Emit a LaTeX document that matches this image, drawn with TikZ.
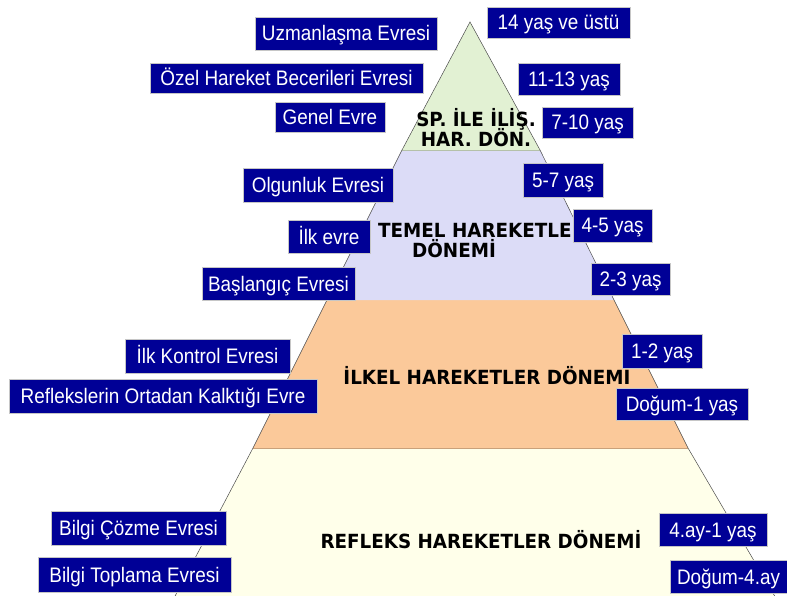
\documentclass[tikz,border=0pt]{standalone}
\usepackage{fontspec}
\setmainfont{Liberation Sans}[FakeStretch=0.9]
\newfontfamily\donemfont{DejaVu Sans}[FakeStretch=0.94]
\usetikzlibrary{positioning}
\definecolor{lacivert}{RGB}{0,0,150}
\definecolor{yesil}{RGB}{226,241,211}
\definecolor{lila}{RGB}{220,220,247}
\definecolor{turuncu}{RGB}{251,201,154}
\definecolor{krem}{RGB}{255,255,234}
\tikzset{kutu/.style = {fill=lacivert, draw=gray!45, line width=0.6pt, text=white,
                        inner sep=0pt, text height=16pt, text depth=1pt,
                        font=\fontsize{21}{24}\selectfont},
         donem/.style = {inner sep=0pt, font=\donemfont\bfseries\fontsize{19.5}{21}\selectfont},
         kenar/.style = {draw=black!70, line width=0.5pt}}

\begin{document}
\begin{tikzpicture}[x=1pt, y=-1pt]
      \useasboundingbox (0,0) rectangle (787,596);
      \fill [white] (0,0) rectangle (787,596);
      \begin{scope}
        \clip (0,0) rectangle (787,596);
        \fill [krem] (253,448) -- (688,448) -- (777,600) -- (173,600) -- cycle;
        \fill [turuncu] (327,300) -- (614,300) -- (688,448) -- (253,448) -- cycle;
        \fill [lila] (402,150) -- (540,150) -- (614,300) -- (327,300) -- cycle;
        \fill [yesil] (470,22) -- (540,150) -- (402,150) -- cycle;
        \draw [yesil!80!black, line width=0.4pt] (402,150) -- (540,150);
        \draw [turuncu!80!black, line width=0.4pt] (253,448) -- (688,448);
        \draw [kenar] (173,600) -- (253,448) -- (327,300) -- (402,150) -- (470,22)
                      -- (540,150) -- (614,300) -- (688,448) -- (777,600);
      \end{scope}
      \node [donem, anchor=base] (sp1) at (476,127) {SP. İLE İLİŞ.};
      \node [donem, anchor=base] (sp2) at ([yshift=-20pt]sp1.base) {HAR. DÖN.};
      \node [donem, anchor=base west] (temel1) at (378,237) {TEMEL HAREKETLER};
      \node [donem, anchor=base west] (temel2) at (412,257) {DÖNEMİ};
      \node [donem, anchor=base] (ilkel) at (487,384) {İLKEL HAREKETLER DÖNEMI};
      \node [donem, anchor=base] (refleks) at (481,548) {REFLEKS HAREKETLER DÖNEMİ};
      \node [kutu, minimum width=182, minimum height=33] (uzman) at (346,33.5) {Uzmanlaşma Evresi};
      \node [kutu, minimum width=143, minimum height=31] (y14) at (558.5,22.5) {14 yaş ve üstü};
      \node [kutu, minimum width=273, minimum height=30] (ozel) at (286.5,78) {Özel Hareket Becerileri Evresi};
      \node [kutu, minimum width=102, minimum height=32] (y11) at (569,79) {11-13 yaş};
      \node [kutu, minimum width=110, minimum height=30] (genel) at (330,117) {Genel Evre};
      \node [kutu, minimum width=91, minimum height=31] (y7) at (587.5,122.5) {7-10 yaş};
      \node [kutu, minimum width=150, minimum height=34] (olgun) at (318,185) {Olgunluk Evresi};
      \node [kutu, minimum width=80, minimum height=34] (y5) at (563,180) {5-7 yaş};
      \node [kutu, minimum width=82, minimum height=33] (ilkevre) at (329,236.5) {İlk evre};
      \node [kutu, minimum width=79, minimum height=33] (y4) at (612.5,225.5) {4-5 yaş};
      \node [kutu, minimum width=153, minimum height=33] (baslangic) at (278.5,283.5) {Başlangıç Evresi};
      \node [kutu, minimum width=79, minimum height=32] (y2) at (630.5,279) {2-3 yaş};
      \node [kutu, minimum width=165, minimum height=34] (kontrol) at (207.5,356) {İlk Kontrol Evresi};
      \node [kutu, minimum width=308, minimum height=34] (kalkma) at (163,396) {Reflekslerin Ortadan Kalktığı Evre};
      \node [kutu, minimum width=80, minimum height=34] (y1) at (662,351) {1-2 yaş};
      \node [kutu, minimum width=132, minimum height=32] (dogum1) at (682,404) {Doğum-1 yaş};
      \node [kutu, minimum width=175, minimum height=34] (cozme) at (138.5,528) {Bilgi Çözme Evresi};
      \node [kutu, minimum width=193, minimum height=35] (toplama) at (134.5,574.5) {Bilgi Toplama Evresi};
      \node [kutu, minimum width=108, minimum height=33] (ay4) at (713,529.5) {4.ay-1 yaş};
      \node [kutu, minimum width=117, minimum height=33] (dogum4) at (728.5,576.5) {Doğum-4.ay};
    \end{tikzpicture}
\end{document}
